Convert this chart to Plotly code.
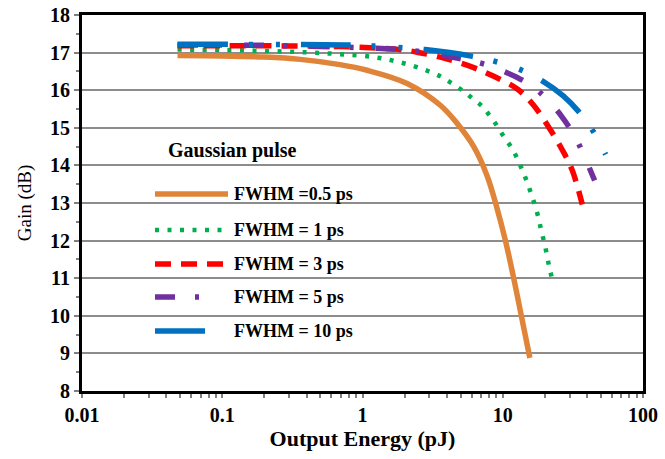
import plotly.graph_objects as go

# ---- data ----
E05 = [0.048, 0.1, 0.2, 0.36, 0.69, 1.08, 2.08, 3.59, 4.72, 6.21, 7.74, 9.12, 10.45, 12.0, 13.6, 15.6]
G05 = [16.92, 16.91, 16.88, 16.82, 16.68, 16.53, 16.18, 15.6, 15.12, 14.5, 13.72, 12.85, 12.0, 10.98, 9.98, 8.88]

E1 = [0.048, 0.1, 0.27, 0.62, 1.2, 1.86, 2.73, 3.59, 4.23, 5.13, 6.04, 7.13, 7.94, 9.12, 10.2,
      11.5, 12.7, 13.8, 14.9, 16.0, 17.1, 18.1, 18.9, 19.95, 20.75, 21.7, 22.8]
G1 = [17.08, 17.07, 17.03, 16.97, 16.88, 16.74, 16.55, 16.37, 16.21, 16.0, 15.79, 15.57, 15.36, 15.05, 14.76,
      14.48, 14.18, 13.87, 13.56, 13.23, 12.9, 12.56, 12.23, 11.9, 11.56, 11.22, 10.89]

E3 = [0.048, 0.2, 0.69, 1.27, 1.96, 2.61, 3.59, 4.45, 6.21, 8.63, 12.7, 16.6, 21.9, 26.6, 31.3, 36.9]
G3 = [17.18, 17.18, 17.16, 17.12, 17.07, 16.99, 16.88, 16.78, 16.6, 16.37, 16.03, 15.6, 14.94, 14.41, 13.87, 12.96]

E5 = [0.048, 0.23, 1.14, 2.19, 5.24, 7.28, 10.8, 15.3, 20.2, 26.6, 33.1, 38.4, 45.2]
G5 = [17.2, 17.19, 17.12, 17.06, 16.82, 16.7, 16.46, 16.17, 15.8, 15.28, 14.73, 14.22, 13.6]

E10 = [0.048, 0.81, 1.27, 2.8, 6.08, 9.12, 13.5, 19.5, 27.0, 34.8, 44.2, 54.2]
G10 = [17.22, 17.2, 17.17, 17.08, 16.9, 16.75, 16.54, 16.23, 15.85, 15.43, 14.9, 14.29]

names = ["FWHM =0.5 ps", "FWHM = 1 ps", "FWHM = 3 ps", "FWHM = 5 ps", "FWHM = 10 ps"]
xs = [E05, E1, E3, E5, E10]
ys = [G05, G1, G3, G5, G10]

x_tickvals = [0.01, 0.1, 1, 10, 100]
x_ticktext = ["0.01", "0.1", "1", "10", "100"]

# ---- styles ----
colors = ["#E0843A", "#00B050", "#FF0000", "#7030A0", "#0070C0"]
dashes = ["solid", "4px,8.5px", "16px,10px", "20px,20px,4px,22px", "50px,21px,4px,23px,4px,21px"]
widths = [5.5, 4.5, 5.5, 5.5, 5.5]
legend_len = [73, 69, 71, 49, 51]  # px length of legend samples

FONT = "Liberation Serif"

fig = go.Figure()
for x, y, n, c, d, w in zip(xs, ys, names, colors, dashes, widths):
    fig.add_trace(go.Scatter(x=x, y=y, mode="lines", name=n, showlegend=False,
                             line=dict(color=c, dash=d, width=w, shape="spline", smoothing=1.0)))

# plot area in pixels
W, H = 665, 459
ml, mr, mt, mb = 82, 22, 15, 68
pw, ph = W - ml - mr, H - mt - mb

def px2paper(px, py):
    return (px - ml) / pw, (H - mb - py) / ph

# manual legend (Excel-like long samples)
tx, ty = px2paper(166, 150)
fig.add_annotation(x=tx, y=ty, xref="paper", yref="paper", text="<b>Gaussian pulse</b>",
                   showarrow=False, xanchor="left", yanchor="middle",
                   font=dict(family=FONT, size=20, color="black"))
entry_y = [194, 230, 264, 297, 331]
for n, c, d, w, L, py in zip(names, colors, dashes, widths, legend_len, entry_y):
    x0, y0 = px2paper(155, py)
    x1, _ = px2paper(155 + L, py)
    fig.add_shape(type="line", xref="paper", yref="paper", x0=x0, x1=x1, y0=y0, y1=y0,
                  line=dict(color=c, dash=d, width=w))
    lx, _ = px2paper(232, py)
    fig.add_annotation(x=lx, y=y0, xref="paper", yref="paper", text="<b>%s</b>" % n,
                       showarrow=False, xanchor="left", yanchor="middle",
                       font=dict(family=FONT, size=18, color="black"))

fig.update_layout(
    width=W, height=H,
    margin=dict(l=ml, r=mr, t=mt, b=mb, autoexpand=False),
    paper_bgcolor="white", plot_bgcolor="white",
    showlegend=False,
    font=dict(family=FONT, color="black"),
)
fig.update_xaxes(type="log", range=[-2, 2], tickvals=x_tickvals, ticktext=x_ticktext,
                 automargin=False,
                 showgrid=False, zeroline=False,
                 showline=True, linecolor="black", linewidth=3, mirror=True,
                 ticks="outside", ticklen=4, tickcolor="#808080", tickwidth=1.5,
                 minor=dict(ticks="outside", ticklen=4, tickcolor="#808080", tickwidth=1.5, dtick="D1", showgrid=False),
                 tickfont=dict(family=FONT, size=20, weight="bold"),
                 title=dict(text="Output Energy (pJ)", font=dict(family=FONT, size=22, weight="bold"), standoff=4))
fig.update_yaxes(range=[8, 18], dtick=1, showgrid=True, gridcolor="#8C8C8C", gridwidth=2,
                 automargin=False,
                 zeroline=False,
                 showline=True, linecolor="black", linewidth=3, mirror=True,
                 ticks="outside", ticklen=5, tickcolor="#808080", tickwidth=1.5,
                 minor=dict(ticks="outside", ticklen=3, tickcolor="#808080", tickwidth=1.5, dtick=0.5, showgrid=False),
                 tickfont=dict(family=FONT, size=20, weight="bold"),
                 title=dict(text="Gain (dB)", font=dict(family=FONT, size=19), standoff=14))

fig.write_html("out.html", post_script="document.body.style.margin='0';",
               config={"displayModeBar": False})
